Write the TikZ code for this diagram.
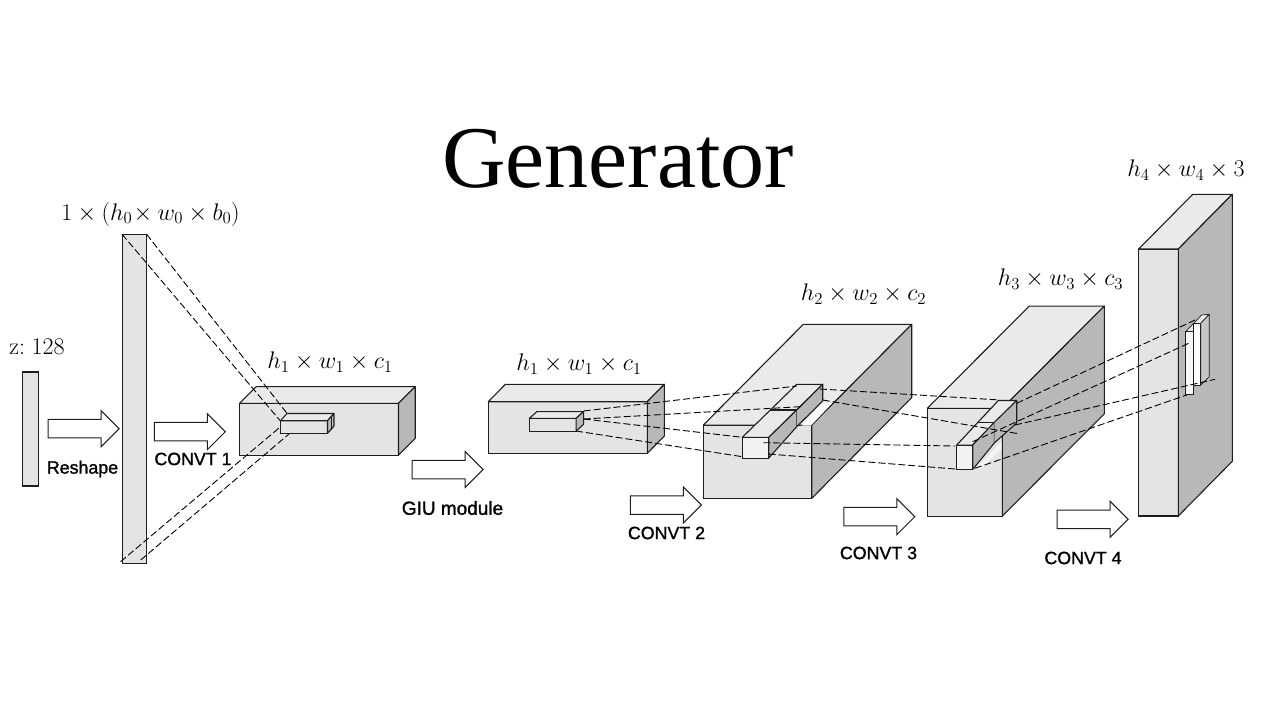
\RequirePackage{fix-cm}
\documentclass[tikz,border=0pt]{standalone}
\usepackage{amsmath,amssymb}
\usepackage{fontspec}
\usepackage{xcolor}
\usepackage{tikz}
\usetikzlibrary{calc,shapes.arrows}
\newfontfamily\titlefont{Liberation Serif}
\newfontfamily\capfont[FakeBold=1.3]{Liberation Sans}
\definecolor{qfront}{RGB}{228,228,228}
\definecolor{qtop}{RGB}{234,234,234}
\definecolor{qside}{RGB}{184,184,184}
\definecolor{qedge}{RGB}{30,30,30}
% top and side face behind a front rectangle node
\newcommand{\boxfaces}[3]{%
  \draw[topface] (#1.north west) -- ++(#2,-#3) -- ($(#1.north east)+(#2,-#3)$) -- (#1.north east) -- cycle;
  \draw[sideface] (#1.north east) -- ($(#1.north east)+(#2,-#3)$) -- ($(#1.south east)+(#2,-#3)$) -- (#1.south east) -- cycle;}

\begin{document}
\begin{tikzpicture}[x=1pt,y=-1pt,
  frontface/.style={draw=qedge,line width=1.1pt,fill=qfront,inner sep=0pt,outer sep=0pt,minimum width=#1},
  topface/.style={draw=qedge,line width=1.1pt,fill=qtop,line join=round},
  sideface/.style={draw=qedge,line width=1.1pt,fill=qside,line join=round},
  whiteface/.style={draw=qedge,line width=1pt,fill=white!92!qfront,line join=round},
  dashline/.style={draw=black,line width=.9pt,dash pattern=on 7pt off 3pt},
  bigarrow/.style={draw=qedge,line width=1pt,fill=white,single arrow,single arrow head extend=8.75pt,
    inner ysep=8.75pt,inner xsep=0pt,minimum height=71pt,outer sep=0pt},
  steplabel/.style={font=\capfont\fontsize{17.8}{20}\selectfont,inner sep=0pt},
  sizelabel/.style={font=\fontsize{24}{26}\selectfont,inner sep=0pt}]
\useasboundingbox (0,0) rectangle (1280,720);
\node[anchor=base,inner sep=0pt,font=\titlefont\fontsize{88}{90}\selectfont] (title) at (618,187) {Generator};

% latent vector and reshaped bar
\node[frontface=16pt,minimum height=114pt] (zbar) at (30.5,429) {};
\node[frontface=24.5pt,minimum height=329pt] (flatbar) at (134.3,398.7) {};
\node[sizelabel] (zlabel) at (37,347) {z:\;128};
\node[sizelabel] (flatlabel) at (150.5,214) {$1\times(h_0\!\times w_0\times b_0)$};

% first feature block
\node[frontface=159pt,minimum height=51.7pt] (blockA) at (319,429.2) {};
\boxfaces{blockA}{16.7}{16.7}
\node[frontface=47pt,minimum height=12.6pt] (subA) at (304,427) {};
\boxfaces{subA}{6.5}{7.2}
\draw[draw=qedge,line width=.7pt] (331,416.5) -- (331,429.5);
\node[sizelabel] (labelA) at (330,362) {$h_1\times w_1\times c_1$};

% second feature block
\node[frontface=159pt,minimum height=51.6pt] (blockB) at (567.8,427.5) {};
\boxfaces{blockB}{17}{17.3}
\node[frontface=46.7pt,minimum height=12.7pt] (subB) at (552.7,424.7) {};
\boxfaces{subB}{7.5}{6.7}
\node[sizelabel] (labelB) at (579,364) {$h_1\times w_1\times c_1$};

% third block with its slot
\node[frontface=108.4pt,minimum height=73.3pt] (blockC) at (757.5,461.7) {};
\boxfaces{blockC}{100}{100.7}
\fill[white] (801.7,425.5) -- (811,425.5) -- (832,403.3) -- (821.7,403.3) -- cycle;
\node[frontface=26.5pt,minimum height=20.7pt,fill=white!50!qfront] (subC) at (755.5,447.7) {};
\draw[topface] (subC.north west) -- (796.7,384.3) -- (822.7,384.3) -- (subC.north east) -- cycle;
\draw[sideface] (subC.north east) -- (796.7,410) -- (796.7,426.7) -- (subC.south east) -- cycle;
\draw[sideface] (796.7,410) -- (822.7,384.3) -- (822.7,401) -- (796.7,426.7);
\draw[draw=qedge,line width=1.1pt] (769.7,410) -- (796.7,410);
\node[sizelabel] (labelC) at (863.5,294) {$h_2\times w_2\times c_2$};

% fourth block with its slot
\node[frontface=75pt,minimum height=107.7pt] (blockD) at (964.8,462.2) {};
\boxfaces{blockD}{102}{102.3}
\fill[white!60!qfront] (975,469) -- (1001.4,442) -- (1001.4,449) -- (981,469) -- cycle;
\node[frontface=16pt,minimum height=24.3pt,fill=white!50!qfront] (subD) at (964.7,457.2) {};
\draw[topface] (subD.north west) -- (998.3,400.5) -- (1016.7,400.5) -- (subD.north east) -- cycle;
\draw[sideface] (subD.north east) -- (994.3,422.3) -- (994.3,443) -- (subD.south east) -- cycle;
\draw[sideface] (994.3,422.3) -- (1016.7,400.5) -- (1016.7,423) -- (994.3,443);
\draw[draw=qedge,line width=1.1pt] (978,422.3) -- (994.3,422.3);
\node[sizelabel] (labelD) at (1060.5,279) {$h_3\times w_3\times c_3$};

% output block
\node[frontface=39.6pt,minimum height=267pt] (blockE) at (1158.5,382.5) {};
\boxfaces{blockE}{54}{54.7}
\draw[topface,line width=.7pt] (1185.7,331.7) -- (1193.5,323.3) -- (1201.7,315) -- (1209.3,314.3) -- (1200.7,323.3) -- (1193,331.7) -- cycle;
\draw[sideface,line width=.7pt,fill=qside!80!white] (1200.7,323.3) -- (1209.3,314.3) -- (1209.3,376.7) -- (1200.7,385) -- cycle;
\draw[whiteface,line width=.7pt] (1193,323.3) rectangle (1200.7,385);
\node[frontface=7.5pt,minimum height=62.6pt,line width=.7pt,fill=white!70!qfront] (subE) at (1189.4,363) {};
\node[sizelabel] (labelE) at (1186,170) {$h_4\times w_4\times 3$};

% arrows between the blocks
\node[bigarrow] (arrowR) at (79,428.7) {};
\node[bigarrow] (arrowA) at (185.2,431.7) {};
\node[bigarrow] (arrowG) at (443,469.5) {};
\node[bigarrow] (arrowB) at (661.2,505) {};
\node[bigarrow] (arrowC) at (874.7,516.7) {};
\node[bigarrow] (arrowD) at (1088,519.3) {};
\node[steplabel] (stepR) at (82.5,469) {Reshape};
\node[steplabel] (stepA) at (193,459) {CONVT 1};
\node[steplabel,font=\capfont\fontsize{19}{20}\selectfont] (stepG) at (452.5,508) {GIU module};
\node[steplabel] (stepB) at (666.5,533) {CONVT 2};
\node[steplabel] (stepC) at (878.5,553) {CONVT 3};
\node[steplabel] (stepD) at (1083,558) {CONVT 4};

% ends of the dashed projection lines
\coordinate (flatNW) at (flatbar.north west); \coordinate (flatNE) at (flatbar.north east);
\coordinate (flatSW) at (120.5,561.7); \coordinate (flatSE) at (140.7,560);
\coordinate (a1) at (280,420.5); \coordinate (a2) at (286.7,413); \coordinate (a3) at (279,428); \coordinate (a4) at (289,434);
\coordinate (b1) at (583.7,411); \coordinate (b2) at (583.7,419); \coordinate (b3) at (576,431);
\coordinate (c1) at (796.7,386); \coordinate (c2) at (800,406.7); \coordinate (c3) at (742.3,437.3); \coordinate (c4) at (742.3,456.7);
\coordinate (c5) at (820,389); \coordinate (c6) at (822.7,400); \coordinate (c7) at (763.3,442.7); \coordinate (c8) at (768.7,454);
\coordinate (d1) at (1000,400); \coordinate (d2) at (1020,434); \coordinate (d3) at (955,446); \coordinate (d4) at (955,469);
\coordinate (d5) at (1016.7,403.3); \coordinate (d6) at (972.7,441.7); \coordinate (d7) at (1015,425); \coordinate (d8) at (975,468.3);
\coordinate (e1) at (1195,320); \coordinate (e2) at (1190,342.7); \coordinate (e3) at (1215,379.3); \coordinate (e4) at (1186.7,395);
\draw[dashline] (flatNW) -- (a1); \draw[dashline] (flatNE) -- (a2); \draw[dashline] (flatSW) -- (a3); \draw[dashline] (flatSE) -- (a4);
\draw[dashline] (b1) -- (c1); \draw[dashline] (b2) -- (c2); \draw[dashline] (b2) -- (c3); \draw[dashline] (b3) -- (c4);
\draw[dashline] (c5) -- (d1); \draw[dashline] (c6) -- (d2); \draw[dashline] (c7) -- (d3); \draw[dashline] (c8) -- (d4);
\draw[dashline] (d5) -- (e1); \draw[dashline] (d6) -- (e2); \draw[dashline] (d7) -- (e3); \draw[dashline] (d8) -- (e4);
\end{tikzpicture}
\end{document}
